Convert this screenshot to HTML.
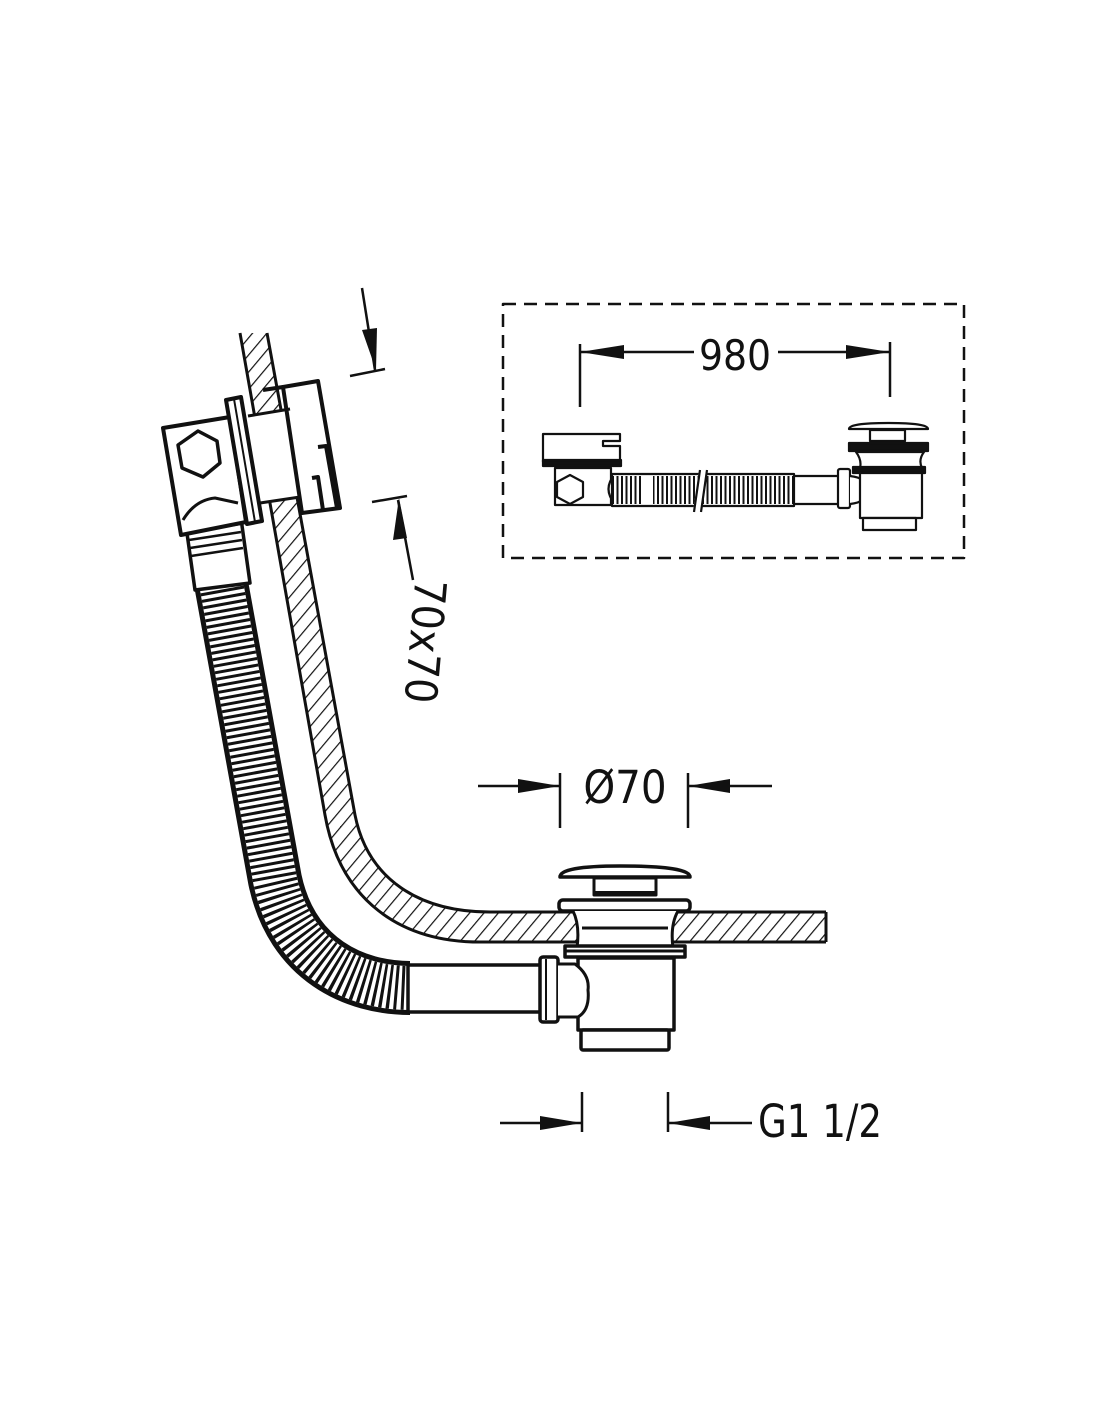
<!DOCTYPE html>
<html><head><meta charset="utf-8"><style>
html,body{margin:0;padding:0;background:#fff;}
svg{display:block;}
text{font-family:"DejaVu Sans Condensed","DejaVu Sans","Liberation Sans",sans-serif;fill:#111;}
</style></head><body>
<svg width="1100" height="1422" viewBox="0 0 1100 1422" xmlns="http://www.w3.org/2000/svg">
<defs>
<pattern id="h" width="11" height="11" patternUnits="userSpaceOnUse" patternTransform="rotate(40)">
<rect width="11" height="11" fill="#fff"/><line x1="0" y1="0" x2="0" y2="11" stroke="#111" stroke-width="2.4"/>
</pattern>
</defs>
<rect width="1100" height="1422" fill="#fff"/>
<g stroke="#111" fill="none" stroke-linejoin="round">
<!-- bath wall band -->
<path d="M240,333 L325,815 C340,900 400,942 480,942 L826,942 L826,912 L490,912 C420,912 368,880 355,815 L267,333 Z" fill="url(#h)" stroke="none"/>
<path d="M240,333 L325,815 C340,900 400,942 480,942 L826,942 M826,942 L826,912 M267,333 L355,815 C368,880 420,912 490,912 L826,912" stroke-width="3"/>

<!-- hose corrugated -->
<path d="M221,583 L275,880 C292,960 355,988 410,988" stroke-width="54"/>
<path d="M221,583 L275,880 C292,960 355,988 410,988" stroke="#fff" stroke-width="44"/>
<path d="M221,583 L275,880 C292,960 355,988 410,988" stroke-width="44" stroke-dasharray="3 3.6"/>
<!-- hose upper smooth -->
<polygon points="183,505 238,497 250,583 195,590" fill="#fff" stroke-width="3.5"/>
<g stroke-width="2.5"><line x1="188" y1="532" x2="240" y2="524"/><line x1="189" y1="540" x2="241" y2="532"/><line x1="190" y1="548" x2="242" y2="540"/><line x1="191" y1="556" x2="243" y2="548"/></g>
<!-- horizontal pipe -->
<rect x="408" y="965" width="134" height="47" fill="#fff" stroke-width="3.5"/>
<rect x="540" y="957" width="18" height="65" rx="3" fill="#fff" stroke-width="3.5"/>
<line x1="546" y1="959" x2="546" y2="1020" stroke-width="2"/>

<!-- overflow fitting -->
<polygon points="248,416 290,409 300,497 260,503" fill="#fff" stroke="none"/>
<polygon points="163,428 230,417 246,522 181,535" fill="#fff" stroke-width="4"/>
<polygon points="198,431 217,441 220,463 203,477 182,468 178,445" fill="#fff" stroke-width="3.5"/>
<path d="M183,520 Q195,500 215,498 L238,503" stroke-width="3"/>
<polygon points="226,400 241,397 262,521 247,524" fill="#fff" stroke-width="4"/>
<line x1="234" y1="399" x2="255" y2="522" stroke-width="2"/>
<polygon points="283,387 318,381 340,508 302,513" fill="#fff" stroke-width="4"/>
<line x1="263" y1="390" x2="283" y2="387" stroke-width="4"/>
<line x1="248" y1="416" x2="290" y2="409" stroke-width="3"/>
<line x1="260" y1="503" x2="300" y2="497" stroke-width="3"/>
<path d="M318,447 L326,446 L337,508 M312,478 L318,477 L323,510" stroke-width="4"/>

<!-- drain -->
<path d="M560,877 Q560,866 620,866 Q690,866 690,877 Z" fill="#fff" stroke-width="3.5"/>
<rect x="594" y="878" width="62" height="17" fill="#fff" stroke-width="3"/>
<line x1="594" y1="893" x2="656" y2="893" stroke-width="4"/>
<rect x="559" y="900" width="131" height="11" rx="4" fill="#fff" stroke-width="3.5"/>
<path d="M573,911 Q580,925 577,948 L673,948 Q670,925 678,911" fill="#fff" stroke-width="3"/>
<line x1="582" y1="928" x2="668" y2="928" stroke-width="3"/>
<rect x="565" y="946" width="120" height="11" fill="#fff" stroke-width="3.5"/>
<line x1="565" y1="951" x2="685" y2="951" stroke-width="3"/>
<rect x="578" y="958" width="96" height="72" fill="#fff" stroke-width="3.5"/>
<rect x="581" y="1030" width="88" height="20" rx="2" fill="#fff" stroke-width="3.5"/>
<path d="M558,964 L575,964 Q590,975 588,990 Q590,1010 578,1017 L558,1017" fill="#fff" stroke-width="3"/>

<!-- dimension arrows -->
<g stroke-width="2.5">
<line x1="362" y1="288" x2="375" y2="370"/>
<line x1="350" y1="376" x2="385" y2="369"/>
<line x1="372" y1="502" x2="407" y2="496"/>
<line x1="398" y1="500" x2="413" y2="580"/>
<line x1="478" y1="786" x2="560" y2="786"/><line x1="560" y1="773" x2="560" y2="828"/>
<line x1="688" y1="786" x2="772" y2="786"/><line x1="688" y1="773" x2="688" y2="828"/>
<line x1="500" y1="1123" x2="582" y2="1123"/><line x1="582" y1="1092" x2="582" y2="1132"/>
<line x1="668" y1="1123" x2="752" y2="1123"/><line x1="668" y1="1092" x2="668" y2="1132"/>
</g>
<g fill="#111" stroke="none">
<polygon points="362,330 377,328 376,370"/>
<polygon points="399,498 393,540 407,538"/>
<polygon points="560,786 518,779 518,793"/>
<polygon points="688,786 730,779 730,793"/>
<polygon points="582,1123 540,1116 540,1130"/>
<polygon points="668,1123 710,1116 710,1130"/>
</g>

<!-- inset -->
<rect x="503" y="304" width="461" height="254" stroke-width="2.5" stroke-dasharray="13 8"/>
<g stroke-width="2.5">
<line x1="580" y1="344" x2="580" y2="407"/><line x1="580" y1="352" x2="694" y2="352"/>
<line x1="778" y1="352" x2="890" y2="352"/><line x1="890" y1="342" x2="890" y2="397"/>
</g>
<polygon points="580,352 624,345 624,359" fill="#111" stroke="none"/>
<polygon points="890,352 846,345 846,359" fill="#111" stroke="none"/>
<!-- inset parts -->
<g stroke-width="2.2" fill="#fff">
<path d="M543,434 L620,434 L620,441 L603,441 L603,446 L620,446 L620,462 L543,462 Z"/>
<rect x="543" y="460" width="78" height="6" fill="#111"/>
<rect x="555" y="468" width="56" height="37"/>
<polygon points="570,475 583,482 583,497 570,504 557,497 557,482"/>
<path d="M615,474 Q602,489 615,504"/>
<rect x="612" y="474" width="182" height="32"/>
<line x1="612" y1="490" x2="794" y2="490" stroke-width="28" stroke="#111" stroke-dasharray="2 2.5"/>
<rect x="641" y="476" width="12" height="28" stroke="none"/>
<line x1="703" y1="470" x2="697" y2="512" stroke="#fff" stroke-width="8"/>
<line x1="700" y1="470" x2="694" y2="512"/><line x1="707" y1="470" x2="701" y2="512"/>
<rect x="794" y="476" width="45" height="28"/>
<rect x="838" y="469" width="12" height="39" rx="2"/>
<path d="M850,476 Q868,478 868,490 Q868,502 850,504"/>
<path d="M849,429 Q849,423 888,423 Q928,423 928,429 Z"/>
<rect x="870" y="430" width="35" height="11"/>
<rect x="849" y="443" width="79" height="8" fill="#111"/>
<path d="M856,452 Q862,460 860,468 L922,468 Q918,460 924,452 Z"/>
<rect x="853" y="467" width="72" height="6" fill="#111"/>
<rect x="860" y="473" width="62" height="45"/>
<rect x="863" y="518" width="53" height="12"/>
</g>
</g>
<text x="735" y="370" font-size="42" text-anchor="middle">980</text>
<text x="625" y="803" font-size="45" text-anchor="middle">Ø70</text>
<text x="758" y="1137" font-size="45" textLength="124" lengthAdjust="spacingAndGlyphs">G1 1/2</text>
<text transform="translate(410,640) rotate(95)" font-size="44" text-anchor="middle">70x70</text>
</svg>
</body></html>
